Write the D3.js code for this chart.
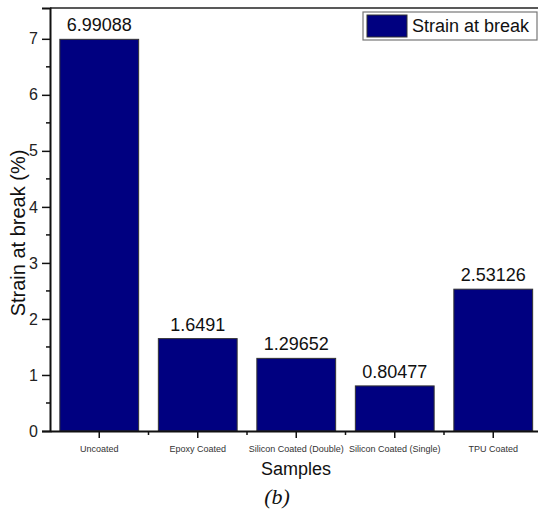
<!DOCTYPE html>
<html>
<head>
<meta charset="utf-8">
<script src="https://cdn.jsdelivr.net/npm/d3@7"></script>
<style>
  html, body { margin: 0; padding: 0; background: #fff; }
  svg { display: block; }
</style>
</head>
<body>
<svg id="chart" width="538" height="512"></svg>
<script>
// Strain at break per coating type
const samples = ["Uncoated", "Epoxy Coated", "Silicon Coated (Double)", "Silicon Coated (Single)", "TPU Coated"];
const strain = [6.99088, 1.6491, 1.29652, 0.80477, 2.53126];
const yTicks = [0, 1, 2, 3, 4, 5, 6, 7];
const seriesName = "Strain at break";

const sans = "Liberation Sans";
const serif = "Liberation Serif";
const svg = d3.select("#chart");
const plotLeft = 50, plotRight = 542.5, plotTop = 8, plotBottom = 431;
const barColor = "#000080";

const x = d3.scaleBand().domain(samples).range([plotLeft, plotRight]).paddingInner(0.2).paddingOuter(0.1);
const y = d3.scaleLinear().domain([0, 7.55]).range([plotBottom, plotTop]);

// bars
svg.append("g").selectAll("rect").data(samples).join("rect")
  .attr("x", d => x(d))
  .attr("width", x.bandwidth())
  .attr("y", (d, i) => y(strain[i]))
  .attr("height", (d, i) => plotBottom - y(strain[i]))
  .attr("fill", barColor)
  .attr("stroke", "#333")
  .attr("stroke-width", 1);

// value labels
svg.append("g").selectAll("text").data(samples).join("text")
  .attr("x", d => x(d) + x.bandwidth() / 2)
  .attr("y", (d, i) => y(strain[i]) - 8)
  .attr("text-anchor", "middle")
  .attr("font-family", sans)
  .attr("font-size", 18)
  .attr("fill", "#111")
  .text((d, i) => strain[i]);

// frame top line
svg.append("line").attr("x1", plotLeft).attr("x2", plotRight).attr("y1", plotTop).attr("y2", plotTop)
  .attr("stroke", "#222").attr("stroke-width", 1.5);

// y axis
const yAxis = svg.append("g").attr("transform", `translate(${plotLeft},0)`)
  .call(d3.axisLeft(y).tickValues(yTicks).tickSize(8).tickPadding(4).tickFormat(d3.format("d")));
yAxis.attr("font-family", sans);
yAxis.select(".domain").attr("stroke", "#111").attr("stroke-width", 2);
yAxis.selectAll(".tick line").attr("stroke", "#111").attr("stroke-width", 1.5);
yAxis.selectAll(".tick text").attr("font-size", 16).attr("fill", "#222");
// minor ticks at half units
const yMinor = yTicks.slice(0, -1).map(v => v + 0.5);
svg.append("g").selectAll("line").data(yMinor).join("line")
  .attr("x1", plotLeft - 4).attr("x2", plotLeft)
  .attr("y1", d => y(d)).attr("y2", d => y(d))
  .attr("stroke", "#111").attr("stroke-width", 1.5);

// x axis
const xAxis = svg.append("g").attr("transform", `translate(0,${plotBottom})`)
  .call(d3.axisBottom(x).tickSize(7).tickPadding(8).tickSizeOuter(0));
xAxis.attr("font-family", sans);
xAxis.select(".domain").attr("stroke", "#111").attr("stroke-width", 2);
xAxis.selectAll(".tick line").attr("stroke", "#111").attr("stroke-width", 1.5);
xAxis.selectAll(".tick text").attr("font-size", 9).attr("fill", "#333");
// minor ticks between categories
const xMinor = samples.slice(1).map(d => x(d) - x.step() * x.paddingInner() / 2);
svg.append("g").selectAll("line").data(xMinor).join("line")
  .attr("x1", d => d).attr("x2", d => d)
  .attr("y1", plotBottom).attr("y2", plotBottom + 4)
  .attr("stroke", "#111").attr("stroke-width", 1.5);

// axis titles
svg.append("text").attr("x", 296).attr("y", 475).attr("text-anchor", "middle")
  .attr("font-family", sans).attr("font-size", 18).attr("fill", "#111").text("Samples");
svg.append("text").attr("transform", "translate(25,233) rotate(-90)").attr("text-anchor", "middle")
  .attr("font-family", sans).attr("font-size", 20).attr("fill", "#111").text("Strain at break (%)");

// panel label
svg.append("text").attr("x", 277).attr("y", 504).attr("text-anchor", "middle")
  .attr("font-family", serif).attr("font-style", "italic")
  .attr("font-size", 22).attr("fill", "#111").text("(b)");

// legend
const lg = svg.append("g");
lg.append("rect").attr("x", 363).attr("y", 12).attr("width", 174).attr("height", 28)
  .attr("fill", "#fff").attr("stroke", "#777").attr("stroke-width", 1.2);
lg.append("rect").attr("x", 367).attr("y", 15).attr("width", 40).attr("height", 22)
  .attr("fill", barColor).attr("stroke", "#333").attr("stroke-width", 1);
lg.append("text").attr("x", 412).attr("y", 32).attr("font-family", sans)
  .attr("font-size", 18).attr("fill", "#111").text(seriesName);
</script>
</body>
</html>
